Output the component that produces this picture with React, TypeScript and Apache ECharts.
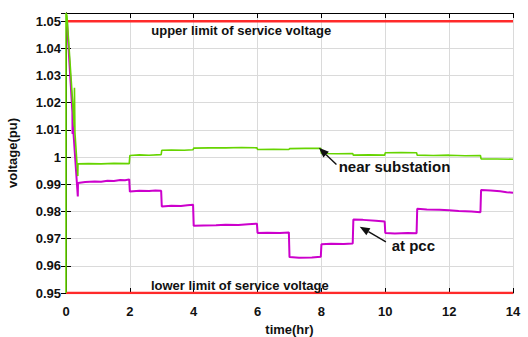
import React, { useEffect, useRef } from "react";
import * as echarts from "echarts";

const xTicks = [0, 2, 4, 6, 8, 10, 12, 14];
const upperLimit = 1.05;
const lowerLimit = 0.95;

const substationTime = [0, 0, 0.03, 0.26, 0.265, 0.275, 0.28, 0.37, 0.375, 0.7, 1.1, 1.5, 1.98,
  2.0, 2.3, 2.6, 2.98, 3.0, 3.3, 3.7, 3.98, 4.0, 4.5, 5.0, 5.5, 5.98, 6.0, 6.5, 6.98, 7.0, 7.5, 7.98,
  8.0, 8.5, 8.98, 9.0, 9.5, 9.98, 10.0, 10.5, 10.98, 11.0, 11.5, 12.0, 12.5, 12.98, 13.0, 13.5, 14.0];
const substationVoltage = [0.95, 1.053, 1.052, 1.011, 1.0255, 1.015, 1.009, 0.993, 0.9975, 0.9976, 0.9975, 0.9977, 0.9976,
  1.0006, 1.0008, 1.0007, 1.0009, 1.0025, 1.0026, 1.0025, 1.0027, 1.0033, 1.0034, 1.0034, 1.0035, 1.0034, 1.0028, 1.0029, 1.0028, 1.0031, 1.0032, 1.0032,
  1.0013, 1.0012, 1.0013, 1.0007, 1.0008, 1.0007, 1.0016, 1.0017, 1.0016, 1.0007, 1.0006, 1.0007, 1.0005, 1.0006, 0.9993, 0.9993, 0.9992];

const pccTime = [0.03, 0.2, 0.205, 0.21, 0.37, 0.375, 0.6, 0.9, 1.1, 1.3, 1.5, 1.7, 1.85, 1.98,
  2.0, 2.3, 2.6, 2.8, 2.98, 3.0, 3.3, 3.6, 3.8, 3.98, 4.0, 4.3, 4.7, 5.0, 5.4, 5.7, 5.98,
  6.0, 6.3, 6.7, 6.98, 7.0, 7.3, 7.7, 7.98, 8.0, 8.3, 8.7, 8.98, 9.0, 9.3, 9.7, 9.98,
  10.0, 10.3, 10.7, 10.98, 11.0, 11.3, 11.7, 12.0, 12.3, 12.7, 12.98, 13.0, 13.3, 13.6, 13.8, 14.0];
const pccVoltage = [1.05, 1.0165, 1.0085, 1.013, 0.9855, 0.9905, 0.9908, 0.991, 0.9909, 0.9913, 0.9912, 0.9916, 0.9915, 0.9918,
  0.9873, 0.9876, 0.9875, 0.9877, 0.9876, 0.9818, 0.9821, 0.982, 0.9823, 0.9825, 0.9747, 0.9748, 0.9749, 0.9751, 0.975, 0.9753, 0.9755,
  0.9721, 0.9722, 0.9721, 0.9723, 0.9632, 0.963, 0.9631, 0.9633, 0.9679, 0.9681, 0.968, 0.9682, 0.977, 0.9769, 0.9766, 0.9763,
  0.9721, 0.9719, 0.9721, 0.972, 0.981, 0.9807, 0.9806, 0.9804, 0.9802, 0.98, 0.9797, 0.9879, 0.9877, 0.9874, 0.9871, 0.9869];

const textLabels = ["upper limit of service voltage", "lower limit of service voltage", "near substation", "at pcc"];
const textCoords = [[2.67, 1.0467], [2.66, 0.9528], [8.54, 0.9965], [10.2, 0.9675]];
const textSizes = [13, 13, 15, 15];
const arrowFrom = [[8.47, 0.9973], [10.02, 0.9688]];
const arrowTo = [[7.92, 1.0034], [9.2, 0.9744]];

const zip = (a: number[], b: number[]) => a.map((v, i) => [v, b[i]]);

export default function App() {
  const ref = useRef<HTMLDivElement>(null);
  useEffect(() => {
    document.body.style.margin = "0";
    const chart = echarts.init(ref.current!, null, { renderer: "svg" });
    const font = "'Liberation Sans', Arial, Helvetica, sans-serif";
    const axisCommon = {
      axisLine: { show: true, lineStyle: { color: "#000", width: 1 } },
      axisTick: { show: true, inside: true, length: 5, lineStyle: { color: "#000" } },
    };
    chart.setOption({
      animation: false,
      grid: { left: 66, right: 15, top: 13, bottom: 44, containLabel: false, outerBoundsMode: "none" },
      xAxis: [
        {
          type: "value", min: 0, max: 14, interval: 2, position: "bottom",
          name: "time(hr)", nameLocation: "middle", nameGap: 30,
          nameTextStyle: { fontFamily: font, fontWeight: "bold", fontSize: 13, color: "#111" },
          ...axisCommon,
          axisLabel: { fontFamily: font, fontWeight: "bold", fontSize: 13, color: "#111", margin: 12 },
          splitLine: { show: true, lineStyle: { color: "#dadada", width: 1 } },
        },
        {
          type: "value", min: 0, max: 14, interval: 2, position: "top",
          ...axisCommon, axisLabel: { show: false }, splitLine: { show: false },
        },
      ],
      yAxis: [
        {
          type: "value", min: lowerLimit, max: 1.053, interval: 0.01, position: "left",
          name: "voltage(pu)", nameLocation: "middle", nameGap: 47,
          nameTextStyle: { fontFamily: font, fontWeight: "bold", fontSize: 13, color: "#111" },
          ...axisCommon,
          axisLabel: {
            fontFamily: font, fontWeight: "bold", fontSize: 13, color: "#111", margin: 5,
            formatter: (v: number) => {
              const r = Math.round(v * 100) / 100;
              if (Math.abs(v - r) > 1e-6) return "";
              return String(+r.toFixed(2));
            },
          },
          splitLine: { show: true, lineStyle: { color: "#dadada", width: 1 } },
        },
        {
          type: "value", min: lowerLimit, max: 1.053, interval: 0.01, position: "right",
          ...axisCommon, axisLabel: { show: false }, splitLine: { show: false },
        },
      ],
      series: [
        {
          type: "line", showSymbol: false, silent: true,
          data: [[xTicks[0], upperLimit], [xTicks[xTicks.length - 1], upperLimit]],
          lineStyle: { color: "#ff2a2a", width: 2.5 },
        },
        {
          type: "line", showSymbol: false, silent: true,
          data: [[xTicks[0], lowerLimit], [xTicks[xTicks.length - 1], lowerLimit]],
          lineStyle: { color: "#ff2a2a", width: 2.5 },
        },
        {
          type: "line", showSymbol: false, silent: true,
          data: zip(pccTime, pccVoltage),
          lineStyle: { color: "#cc00cc", width: 2 },
        },
        {
          type: "line", showSymbol: false, silent: true,
          data: zip(substationTime, substationVoltage),
          lineStyle: { color: "#66d400", width: 1.6 },
          markPoint: {
            silent: true, symbol: "circle", symbolSize: 0,
            label: {
              show: true, position: "right", distance: 0, formatter: "{b}",
              fontFamily: font, fontWeight: "bold", fontSize: 13, color: "#111",
            },
            data: textLabels.map((name, i) => ({
              name, coord: textCoords[i], label: { fontSize: textSizes[i] },
            })),
          },
        },
      ],
    });

    const arrows: any[] = [];
    arrowFrom.forEach((f, i) => {
      const p0 = chart.convertToPixel({ gridIndex: 0 }, f) as number[];
      const p1 = chart.convertToPixel({ gridIndex: 0 }, arrowTo[i]) as number[];
      const dx = p1[0] - p0[0];
      const dy = p1[1] - p0[1];
      const len = Math.hypot(dx, dy);
      const ux = dx / len, uy = dy / len;
      const headLen = 10, headW = 4;
      const bx = p1[0] - ux * headLen, by = p1[1] - uy * headLen;
      arrows.push({
        type: "line", silent: true, z: 100,
        shape: { x1: p0[0], y1: p0[1], x2: bx, y2: by },
        style: { stroke: "#111", lineWidth: 1.4 },
      });
      arrows.push({
        type: "polygon", silent: true, z: 100,
        shape: {
          points: [
            [p1[0], p1[1]],
            [bx - uy * headW, by + ux * headW],
            [bx + uy * headW, by - ux * headW],
          ],
        },
        style: { fill: "#111" },
      });
    });
    chart.setOption({ graphic: arrows });
    return () => chart.dispose();
  }, []);
  return <div ref={ref} style={{ width: 528, height: 337 }} />;
}
